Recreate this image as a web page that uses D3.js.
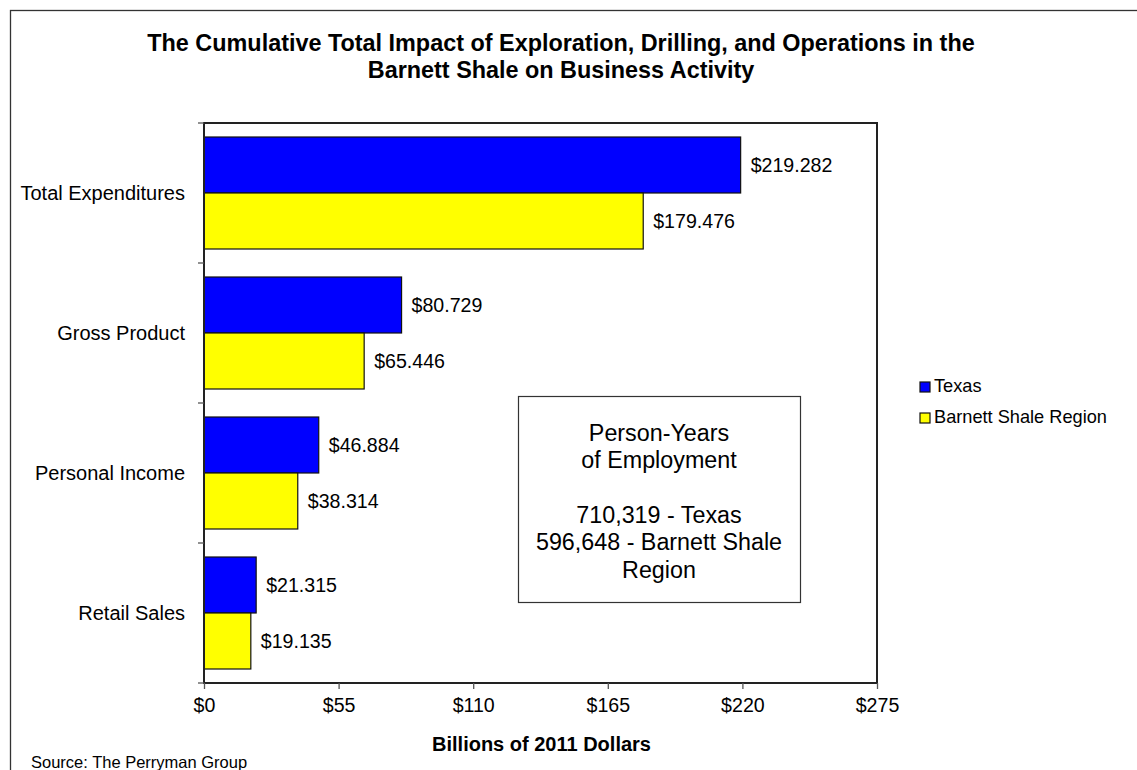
<!DOCTYPE html>
<html>
<head>
<meta charset="utf-8">
<script src="https://cdn.jsdelivr.net/npm/d3@7"></script>
<style>
  html, body { margin: 0; padding: 0; background: #fff; }
  svg { display: block; font-family: "Liberation Sans", Arial, sans-serif; }
</style>
</head>
<body>
<svg id="chart" width="1137" height="770"></svg>
<script>
const categories = ["Total Expenditures", "Gross Product", "Personal Income", "Retail Sales"];
const seriesNames = ["Texas", "Barnett Shale Region"];
const texasValues = [219.282, 80.729, 46.884, 21.315];
const barnettValues = [179.476, 65.446, 38.314, 19.135];
const seriesColors = ["#0000FF", "#FFFF00"];
const xTickValues = [0, 55, 110, 165, 220, 275];
const titleLines = ["The Cumulative Total Impact of Exploration, Drilling, and Operations in the", "Barnett Shale on Business Activity"];
const xAxisTitle = "Billions of 2011 Dollars";
const sourceText = "Source: The Perryman Group";
const boxLines = ["Person-Years", "of Employment", "", "710,319 - Texas", "596,648 - Barnett Shale", "Region"];

const svg = d3.select("#chart");
const W = 1137, H = 770;
const plot = { left: 204, top: 123, right: 877, bottom: 683 };

// outer frame
svg.append("rect").attr("x", 10.5).attr("y", 10.5).attr("width", W + 20).attr("height", H + 20)
  .attr("fill", "#fff").attr("stroke", "#333").attr("stroke-width", 1.3);

// title
const title = svg.append("text").attr("text-anchor", "middle").attr("font-weight", "bold")
  .attr("font-size", "23.4px").attr("fill", "#000");
titleLines.forEach((t, i) => {
  title.append("tspan").attr("x", 561).attr("y", 51 + i * 26.5).text(t);
});

const x = d3.scaleLinear().domain([0, 275]).range([plot.left, plot.right]);
const y0 = d3.scaleBand().domain(categories).range([plot.top, plot.bottom]).padding(0);
const y1 = d3.scaleBand().domain(seriesNames).range([0, y0.bandwidth()]).paddingInner(0).paddingOuter(0.25);

const data = categories.map((c, i) => ({ cat: c, vals: [texasValues[i], barnettValues[i]] }));

// plot background
svg.append("rect").attr("x", plot.left).attr("y", plot.top)
  .attr("width", plot.right - plot.left).attr("height", plot.bottom - plot.top)
  .attr("fill", "#fff");

// bars
const groups = svg.append("g").selectAll("g").data(data).join("g")
  .attr("transform", d => `translate(0,${y0(d.cat)})`);
groups.selectAll("rect").data(d => d.vals.map((v, j) => ({ v, s: seriesNames[j], j })))
  .join("rect")
  .attr("x", x(0))
  .attr("y", d => y1(d.s))
  .attr("width", d => x(d.v) - x(0))
  .attr("height", y1.bandwidth())
  .attr("fill", d => seriesColors[d.j])
  .attr("stroke", "#111").attr("stroke-width", 1.2);

groups.selectAll("text.val").data(d => d.vals.map((v, j) => ({ v, s: seriesNames[j] })))
  .join("text").attr("class", "val")
  .attr("x", d => x(d.v) + 10)
  .attr("y", d => y1(d.s) + y1.bandwidth() / 2)
  .attr("dy", "0.36em")
  .attr("font-size", "19.6px").attr("fill", "#000")
  .text(d => "$" + d3.format(".3f")(d.v));

// plot frame
svg.append("rect").attr("x", plot.left).attr("y", plot.top)
  .attr("width", plot.right - plot.left).attr("height", plot.bottom - plot.top)
  .attr("fill", "none").attr("stroke", "#222").attr("stroke-width", 2);

// y axis ticks at category boundaries
const yTickPos = categories.map(c => y0(c)).concat([plot.bottom]);
svg.append("g").selectAll("line").data(yTickPos).join("line")
  .attr("x1", plot.left - 6).attr("x2", plot.left).attr("y1", d => d).attr("y2", d => d)
  .attr("stroke", "#555").attr("stroke-width", 1.3);

// category labels
svg.append("g").selectAll("text").data(categories).join("text")
  .attr("x", plot.left - 19)
  .attr("y", d => y0(d) + y0.bandwidth() / 2)
  .attr("dy", "0.36em")
  .attr("text-anchor", "end").attr("font-size", "20px").attr("fill", "#000")
  .text(d => d);

// x axis
const xAxis = d3.axisBottom(x).tickValues(xTickValues).tickSize(6).tickPadding(9)
  .tickFormat(d => "$" + d);
const gx = svg.append("g").attr("transform", `translate(0,${plot.bottom})`).call(xAxis);
gx.select(".domain").remove();
gx.selectAll(".tick line").attr("stroke", "#555").attr("stroke-width", 1.3);
gx.selectAll(".tick text").attr("font-size", "19.6px").attr("fill", "#000")
  .attr("font-family", "\"Liberation Sans\", Arial, sans-serif");

// x axis title
svg.append("text").attr("x", (plot.left + plot.right) / 2 + 1).attr("y", 751)
  .attr("text-anchor", "middle").attr("font-weight", "bold").attr("font-size", "20px")
  .attr("fill", "#000").text(xAxisTitle);

// source
svg.append("text").attr("x", 31).attr("y", 768).attr("font-size", "16.5px").attr("fill", "#000")
  .text(sourceText);

// legend
const legend = svg.append("g");
seriesNames.forEach((s, i) => {
  const ly = 382 + i * 31;
  legend.append("rect").attr("x", 920).attr("y", ly).attr("width", 10).attr("height", 10)
    .attr("fill", seriesColors[i]).attr("stroke", "#111").attr("stroke-width", 1.2);
  legend.append("text").attr("x", 934).attr("y", ly + 10).attr("font-size", "18.2px")
    .attr("fill", "#000").text(s);
});

// employment text box
svg.append("rect").attr("x", 518.5).attr("y", 396.5).attr("width", 282).attr("height", 206)
  .attr("fill", "#fff").attr("stroke", "#333").attr("stroke-width", 1.2);
const bt = svg.append("text").attr("text-anchor", "middle").attr("font-size", "23.3px").attr("fill", "#000");
boxLines.forEach((t, i) => {
  bt.append("tspan").attr("x", 659).attr("y", 441 + i * 27.3).text(t);
});
</script>
</body>
</html>
